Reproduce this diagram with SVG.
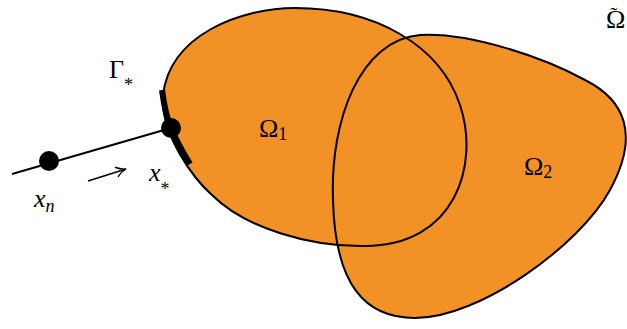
<svg xmlns="http://www.w3.org/2000/svg" width="627" height="329" viewBox="0 0 627 329">
<style>
.fill{fill:#F29126;stroke:none}
.edge{fill:none;stroke:#000;stroke-width:2}
.t{font-family:"Liberation Serif","Times New Roman",serif;font-size:26px;fill:#000}
.i{font-style:italic}
.sub{font-size:18px}
</style>
<defs>
<marker id="arr" viewBox="0 0 12 12" refX="11" refY="6" markerWidth="12" markerHeight="12" markerUnits="userSpaceOnUse" orient="auto">
<path d="M1,1 Q6,5 11,6 Q6,7 1,11" fill="none" stroke="#000" stroke-width="1.4"/>
</marker>
</defs>
<g id="regions">
<path class="fill" d="M163,95 C170,35 240,8 295,8 C375,8 440,45 460,105 C480,165 455,246 365,246 C310,247 245,228 212,195 C195,180 160,135 163,95 Z"/>
<path class="fill" d="M333,200 C330,120 360,40 420,35 C470,32 545,58 585,80 C625,100 640,135 610,190 C580,245 480,318 415,318 C365,318 335,285 333,200 Z"/>
<path class="edge" d="M163,95 C170,35 240,8 295,8 C375,8 440,45 460,105 C480,165 455,246 365,246 C310,247 245,228 212,195 C195,180 160,135 163,95 Z"/>
<path class="edge" d="M333,200 C330,120 360,40 420,35 C470,32 545,58 585,80 C625,100 640,135 610,190 C580,245 480,318 415,318 C365,318 335,285 333,200 Z"/>
</g>
<g id="connectors">
<line x1="12" y1="174" x2="171" y2="128" stroke="#000" stroke-width="2"/>
<line x1="88" y1="181" x2="126" y2="169" stroke="#000" stroke-width="1.6" marker-end="url(#arr)"/>
<path d="M162,90 C164,105 166,117 171,128 C176,140 183,153 190,164" fill="none" stroke="#000" stroke-width="6"/>
</g>
<g id="node-xn"><circle cx="49" cy="161" r="10" fill="#000"/></g>
<g id="node-xstar"><circle cx="171" cy="128" r="10" fill="#000"/></g>
<g id="labels">
<text class="t" x="109" y="78">Γ<tspan class="sub" dy="13">*</tspan></text>
<text class="t i" x="149" y="181">x<tspan class="sub" font-style="normal" dy="14">*</tspan></text>
<text class="t i" x="34" y="207">x<tspan class="sub" dy="5">n</tspan></text>
<text class="t" x="259" y="137">Ω<tspan class="sub" dy="3">1</tspan></text>
<text class="t" x="524" y="175">Ω<tspan class="sub" dy="3">2</tspan></text>
<text class="t" x="606" y="28">Ω<tspan dx="-15" dy="-6" font-size="21px">˜</tspan></text>
</g>
</svg>
